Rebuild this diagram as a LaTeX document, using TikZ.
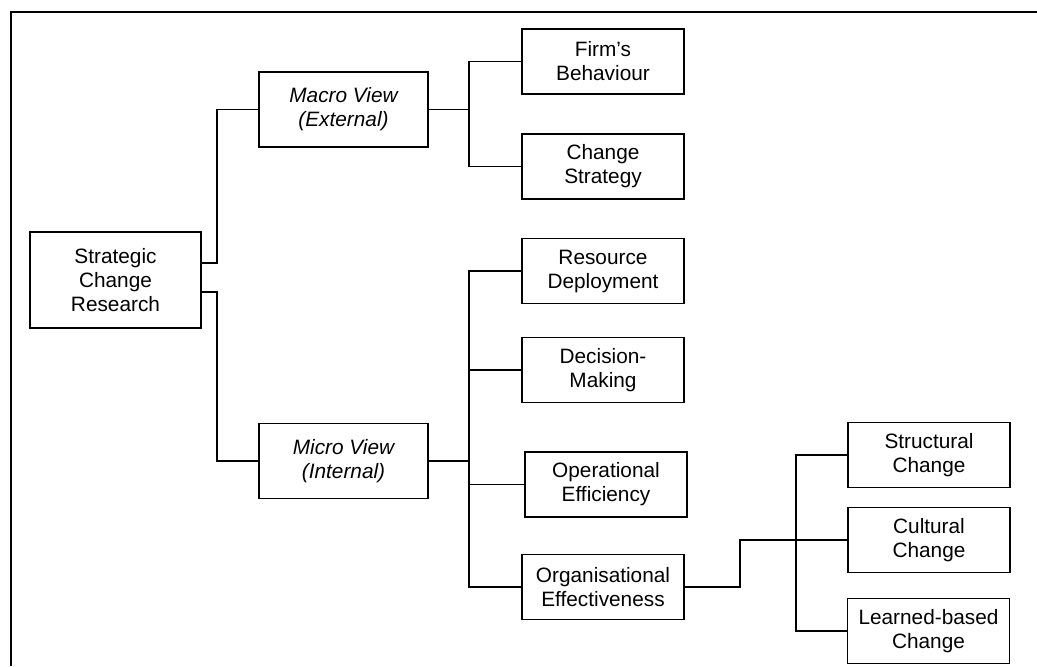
\documentclass[tikz,border=0pt]{standalone}
\usepackage{fontspec}
\setmainfont{Liberation Sans}
\tikzset{
  blk/.style={draw,line width=0.65pt,align=center,inner sep=2pt,
              font=\fontsize{10.4}{12}\selectfont,
              minimum width=81pt,minimum height=32.5pt},
  blkv/.style={blk,font=\fontsize{10.4}{12}\selectfont\itshape,
               minimum width=84.5pt,minimum height=37.5pt},
  blkr/.style={blk,minimum width=85.5pt,minimum height=48pt},
  link/.style={line width=0.65pt},
}

\begin{document}
\begin{tikzpicture}[x=0.5pt,y=-0.5pt]
  \useasboundingbox (0,0) rectangle (1037,666);
  \draw[line width=0.8pt] (11,666) -- (11,12) -- (1037,12);

  % root and the two views
  \node[blkr] (scr)    at (115.5,280) {Strategic\\Change\\Research};
  \node[blkv] (macro)  at (343.5,109.5) {Macro View\\(External)};
  \node[blkv] (micro)  at (343.5,461)   {Micro View\\(Internal)};

  % macro side
  \node[blk] (firm)   at (603,61.5)  {Firm’s\\Behaviour};
  \node[blk] (strat)  at (603,166.5) {Change\\Strategy};

  % micro side
  \node[blk] (res)    at (603,271)   {Resource\\Deployment};
  \node[blk] (dec)    at (603,370)   {Decision-\\Making};
  \node[blk] (ope)    at (606,484.5) {Operational\\Efficiency};
  \node[blk] (org)    at (603,587)   {Organisational\\Effectiveness};

  % kinds of change
  \node[blk] (struct) at (929,455)   {Structural\\Change};
  \node[blk] (cult)   at (929,540)   {Cultural\\Change};
  \node[blk] (learn)  at (928.5,631) {Learned-based\\Change};

  \coordinate (jA) at (217,200);
  \coordinate (jD) at (217,380);
  \coordinate (jB) at (469,110);
  \coordinate (jC) at (469,450);
  \coordinate (jE) at (740,560);
  \coordinate (jF) at (796,540);

  \draw[link] ([yshift=8.5pt]scr.east) -| (jA) |- (macro.west);
  \draw[link] ([yshift=-6pt]scr.east) -| (jD) |- (micro.west);

  \draw[link] (firm.west) -| (jB) |- (strat.west);
  \draw[link] (macro.east) -- (macro.east -| jB);

  \draw[link] (res.west) -| (jC) |- (org.west);
  \draw[link] (micro.east) -- (micro.east -| jC);
  \draw[link] (dec.west) -- (dec.west -| jC);
  \draw[link] (ope.west) -- (ope.west -| jC);

  \draw[link] (org.east) -| (jE) |- (cult.west);
  \draw[link] (struct.west) -| (jF) |- (learn.west);
\end{tikzpicture}
\end{document}
